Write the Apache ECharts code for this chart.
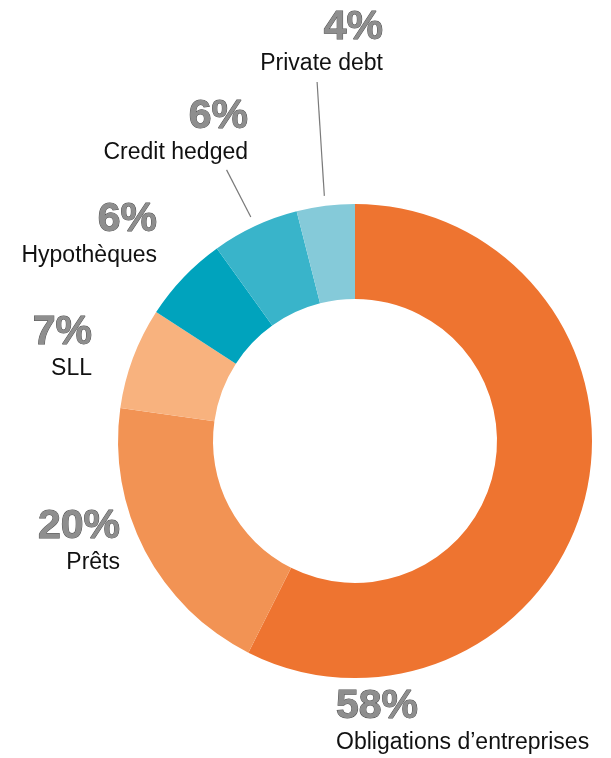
<!DOCTYPE html>
<html>
<head>
<meta charset="utf-8">
<script src="https://cdn.jsdelivr.net/npm/echarts@6/dist/echarts.min.js"></script>
<style>
html, body { margin: 0; padding: 0; background: #fff; }
#chart { width: 611px; height: 758px; }
</style>
</head>
<body>
<div id="chart"></div>
<script>
// data
var categories = ['Obligations d’entreprises', 'Prêts', 'SLL', 'Hypothèques', 'Credit hedged', 'Private debt'];
var values = [58, 20, 7, 6, 6, 4];
var colors = ['#EE7430', '#F29354', '#F8B27E', '#00A3BD', '#39B4CA', '#85CAD9'];

// layout (label top corner, alignment, leader line outer radius / angle tweak in degrees)
var labelX = [336, 120, 92, 157, 248, 383];
var labelY = [687, 507, 313, 200, 97, 8];
var labelAlign = ['left', 'right', 'right', 'right', 'right', 'right'];
var leaderTo = [0, 0, 0, 0, 300, 361];
var leaderTilt = [0, 0, 0, 0, -0.4, 1.1];

var cx = 355, cy = 441, rIn = 142, rOut = 237;
var font = '"Liberation Sans", Arial, Helvetica, sans-serif';

var total = values.reduce(function(a, b) { return a + b }, 0);
function midAngle(i) {
	var before = 0;
	for (var j = 0; j < i; j++) before += values[j];
	return (before + values[i] / 2) / total * Math.PI * 2;
}
function polar(a, r) {
	return [cx + r * Math.sin(a), cy - r * Math.cos(a)];
}

var pieData = [];
for (var i = 0; i < values.length; i++) {
	pieData.push({
		name: categories[i],
		value: values[i],
		itemStyle: { color: colors[i] },
		labelLine: { show: leaderTo[i] > 0 }
	});
}

var chart = echarts.init(document.getElementById('chart'));
chart.setOption({
	animation: false,
	series: [{
		type: 'pie',
		center: [cx, cy],
		radius: [rIn, rOut],
		startAngle: 90,
		clockwise: true,
		avoidLabelOverlap: false,
		data: pieData,
		label: {
			show: true,
			position: 'outside',
			overflow: 'none',
			formatter: '{pct|{c}%}\n{name|{b}}',
			rich: {
				pct: {
					fontFamily: font,
					fontSize: 41,
					fontWeight: 'bold',
					lineHeight: 40,
					color: '#8e8e8e',
					textBorderColor: '#505050',
					textBorderWidth: 1
				},
				name: {
					fontFamily: font,
					fontSize: 23,
					lineHeight: 32,
					color: '#111'
				}
			}
		},
		labelLine: {
			show: false,
			lineStyle: { color: '#7a7a7a', width: 1.2 }
		},
		labelLayout: function(params) {
			var i = params.dataIndex;
			var out = {
				x: labelX[i],
				y: labelY[i],
				align: labelAlign[i],
				verticalAlign: 'top',
				width: 300
			};
			if (leaderTo[i] > 0) {
				var a = midAngle(i);
				var a0 = a + leaderTilt[i] * Math.PI / 180;
				out.labelLinePoints = [polar(a0, leaderTo[i]), polar(a, rOut + 10)];
			}
			return out;
		},
		emphasis: { disabled: true }
	}]
});
</script>
</body>
</html>
